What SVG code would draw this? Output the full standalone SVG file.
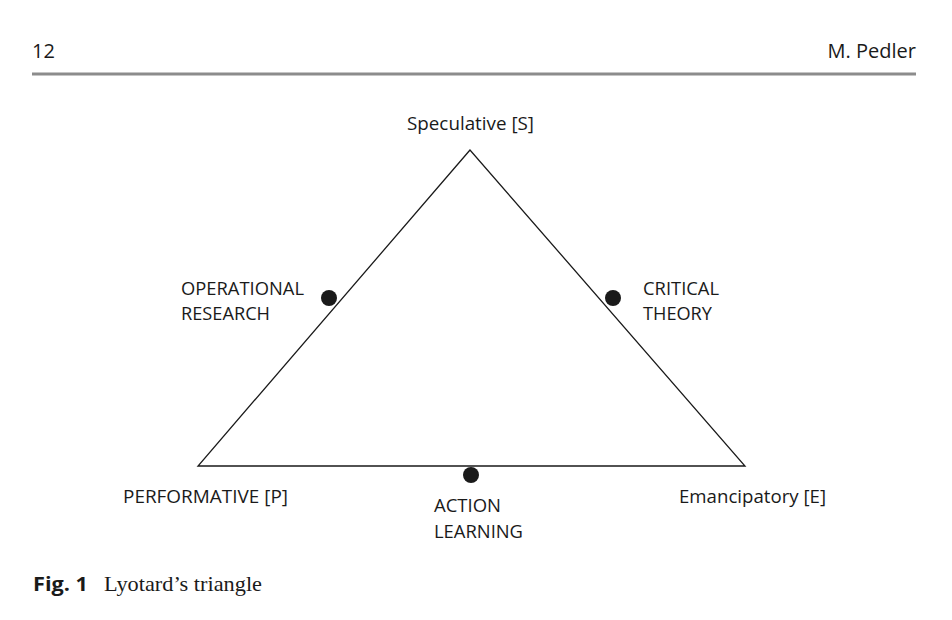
<svg xmlns="http://www.w3.org/2000/svg" width="952" height="620" viewBox="0 0 952 620">
<style>
.lbl{font-family:"Open Sans","Noto Sans",sans-serif;font-size:19px;fill:#1a1a1a}
.hdr{font-family:"Open Sans","Noto Sans",sans-serif;font-size:20px;fill:#1a1a1a}
.edge{stroke:#1a1a1a;stroke-width:1.3;fill:none}
.dot{fill:#1a1a1a}
</style>
<rect width="952" height="620" fill="#fff"/>
<text class="hdr" x="32" y="58" textLength="23">12</text>
<text class="hdr" x="916" y="58" text-anchor="end">M. Pedler</text>
<rect x="32" y="72.5" width="884" height="3" fill="#8c8c8c"/>
<g id="connectors">
<path class="edge" d="M470,150 L198,466 L745,466 Z"/>
</g>
<g id="speculative"><text class="lbl" x="407" y="130" textLength="127" lengthAdjust="spacingAndGlyphs">Speculative [S]</text></g>
<g id="performative"><text class="lbl" x="123" y="503" textLength="165" lengthAdjust="spacingAndGlyphs">PERFORMATIVE [P]</text></g>
<g id="emancipatory"><text class="lbl" x="679" y="503" textLength="147" lengthAdjust="spacingAndGlyphs">Emancipatory [E]</text></g>
<g id="operational-research"><circle class="dot" cx="329" cy="298" r="8"/><text class="lbl" x="181" y="295" textLength="123" lengthAdjust="spacingAndGlyphs">OPERATIONAL</text><text class="lbl" x="181" y="320" textLength="89" lengthAdjust="spacingAndGlyphs">RESEARCH</text></g>
<g id="critical-theory"><circle class="dot" cx="613" cy="298" r="8"/><text class="lbl" x="643" y="295" textLength="76" lengthAdjust="spacingAndGlyphs">CRITICAL</text><text class="lbl" x="643" y="320" textLength="69" lengthAdjust="spacingAndGlyphs">THEORY</text></g>
<g id="action-learning"><circle class="dot" cx="471" cy="475" r="8"/><text class="lbl" x="434" y="512" textLength="67" lengthAdjust="spacingAndGlyphs">ACTION</text><text class="lbl" x="434" y="538" textLength="89" lengthAdjust="spacingAndGlyphs">LEARNING</text></g>
<text x="33" y="591" font-family="Open Sans, Noto Sans, sans-serif" font-weight="bold" font-size="20" fill="#1a1a1a" textLength="55" lengthAdjust="spacingAndGlyphs">Fig. 1</text>
<text x="104" y="591" font-family="Liberation Serif, serif" font-size="22" fill="#1a1a1a" textLength="158" lengthAdjust="spacingAndGlyphs">Lyotard’s triangle</text>
</svg>
